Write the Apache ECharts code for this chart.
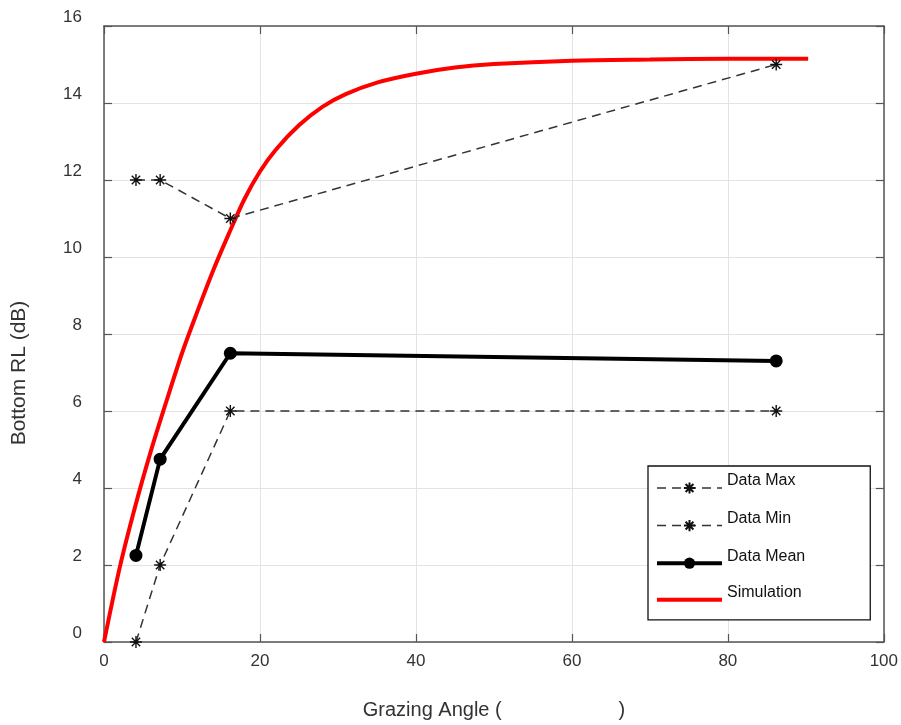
<!DOCTYPE html>
<html><head><meta charset="utf-8">
<script src="https://cdn.jsdelivr.net/npm/echarts@6/dist/echarts.min.js"></script>
<style>html,body{margin:0;padding:0;background:#fff}#c{width:901px;height:725px}</style>
</head><body><div id="c"></div>
<script>
// ---- data ----
const xTicks = [0, 20, 40, 60, 80, 100];
const yTicks = [0, 2, 4, 6, 8, 10, 12, 14, 16];

const maxX = [4.1, 7.2, 16.2, 86.2];
const maxY = [12, 12, 11, 15];

const minX = [4.1, 7.2, 16.2, 86.2];
const minY = [0, 2, 6, 6];

const meanX = [4.1, 7.2, 16.2, 86.2];
const meanY = [2.25, 4.75, 7.5, 7.3];

const simX = [0, 2, 4, 6, 8, 10, 12, 14, 16, 18, 20, 22, 25, 28, 31, 35, 40, 45, 50, 60, 70, 80, 90.3];
const simY = [0, 1.92, 3.52, 4.95, 6.25, 7.5, 8.6, 9.65, 10.6, 11.5, 12.22, 12.78, 13.42, 13.9, 14.23, 14.53, 14.76, 14.92, 15.01, 15.1, 15.13, 15.15, 15.15];

const pairs = (xs, ys) => xs.map((x, i) => [x, ys[i]]);

const star = 'path://M0,-10 L0,10 M-10,0 L10,0 M-7,-7 L7,7 M-7,7 L7,-7';
const redBar = 'path://M0,0 M0,5 L65,5 L65,9 L0,9 Z M65,14';
const axisCol = '#555';
const txtCol = '#333';
const font = '"Liberation Sans", Arial, sans-serif';

const chart = echarts.init(document.getElementById('c'));
chart.setOption({
  animation: false,
  backgroundColor: '#fff',
  grid: { left: 104, right: 12, top: 26, bottom: 82, show: false },
  legend: {
    orient: 'vertical', left: 648, top: 466,
    padding: [7, 65, 13, 7],
    backgroundColor: '#fff', borderColor: '#111', borderWidth: 1.3,
    itemWidth: 65, itemHeight: 14, itemGap: 16,
    lineStyle: { width: 'inherit' },
    formatter: '{t|{name}}',
    textStyle: { fontFamily: font, fontSize: 16, color: '#111',
      rich: { t: { fontFamily: font, fontSize: 16, color: '#111', padding: [0, 0, 14, 0] } } },
    data: ['Data Max', 'Data Min', 'Data Mean', { name: 'Simulation', icon: redBar }]
  },
  xAxis: [{
    type: 'value', min: 0, max: 100, interval: 20,
    name: 'Grazing Angle (                     )', nameLocation: 'middle', nameGap: 58,
    nameTextStyle: { fontFamily: font, fontSize: 20, color: txtCol },
    axisLine: { show: true, onZero: false, lineStyle: { color: axisCol, width: 1.5 } },
    axisTick: { show: true, inside: true, length: 8, lineStyle: { color: axisCol, width: 1.2 } },
    axisLabel: { fontFamily: font, fontSize: 17, color: txtCol, margin: 11, customValues: xTicks },
    splitLine: { show: true, lineStyle: { color: '#e3e3e3', width: 1 } }
  }, {
    type: 'value', min: 0, max: 100, interval: 20, position: 'top',
    axisLine: { show: true, onZero: false, lineStyle: { color: axisCol, width: 1.5 } },
    axisTick: { show: true, inside: true, length: 8, lineStyle: { color: axisCol, width: 1.2 } },
    axisLabel: { show: false }, splitLine: { show: false }
  }],
  yAxis: [{
    type: 'value', min: 0, max: 16, interval: 2,
    name: 'Bottom RL (dB)', nameLocation: 'middle', nameGap: 74, nameRotate: 90,
    nameTextStyle: { fontFamily: font, fontSize: 21, color: txtCol, padding: [0, 78, 0, 0] },
    axisLine: { show: true, onZero: false, lineStyle: { color: axisCol, width: 1.5 } },
    axisTick: { show: true, inside: true, length: 8, lineStyle: { color: axisCol, width: 1.2 } },
    axisLabel: { fontFamily: font, fontSize: 17, color: txtCol, margin: 22, verticalAlign: 'bottom', customValues: yTicks },
    splitLine: { show: true, lineStyle: { color: '#e3e3e3', width: 1 } }
  }, {
    type: 'value', min: 0, max: 16, interval: 2, position: 'right',
    axisLine: { show: true, onZero: false, lineStyle: { color: axisCol, width: 1.5 } },
    axisTick: { show: true, inside: true, length: 8, lineStyle: { color: axisCol, width: 1.2 } },
    axisLabel: { show: false }, splitLine: { show: false }
  }],
  series: [{
    name: 'Data Max', type: 'line', data: pairs(maxX, maxY),
    symbol: star, symbolSize: 12, showSymbol: true,
    itemStyle: { color: '#111', borderColor: '#111', borderWidth: 1.4 },
    lineStyle: { color: '#333', width: 1.5, type: [9, 6] }, z: 3
  }, {
    name: 'Data Min', type: 'line', data: pairs(minX, minY),
    symbol: star, symbolSize: 12, showSymbol: true,
    itemStyle: { color: '#111', borderColor: '#111', borderWidth: 1.4 },
    lineStyle: { color: '#333', width: 1.5, type: [9, 6] }, z: 3
  }, {
    name: 'Data Mean', type: 'line', data: pairs(meanX, meanY),
    symbol: 'circle', symbolSize: 13,
    itemStyle: { color: '#000' },
    lineStyle: { color: '#000', width: 4 }, z: 4
  }, {
    name: 'Simulation', type: 'line', data: pairs(simX, simY),
    smooth: 0.3, showSymbol: false, symbol: 'none',
    itemStyle: { color: '#ff0000' },
    lineStyle: { color: '#ff0000', width: 4 }, z: 2
  }]
});
</script></body></html>
